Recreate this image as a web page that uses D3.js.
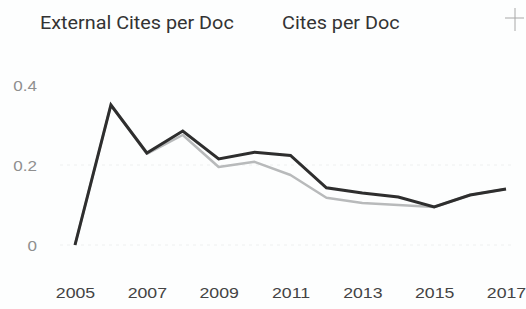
<!DOCTYPE html>
<html>
<head>
<meta charset="utf-8">
<script src="https://cdn.jsdelivr.net/npm/d3@7"></script>
<style>
  body { margin: 0; background: #fdfefe; }
  svg { display: block; font-family: Roboto, sans-serif; }
</style>
</head>
<body>
<div id="chart"></div>
<script>
// Chart data
const years = [2005, 2006, 2007, 2008, 2009, 2010, 2011, 2012, 2013, 2014, 2015, 2016, 2017];
const citesPerDoc = [0, 0.35, 0.23, 0.285, 0.215, 0.232, 0.224, 0.143, 0.13, 0.12, 0.095, 0.125, 0.14];
const externalCitesPerDoc = [0, 0.35, 0.228, 0.275, 0.195, 0.208, 0.175, 0.118, 0.105, 0.1, 0.095, 0.125, 0.14];
const yTicks = [0, 0.2, 0.4];
const xTicks = [2005, 2007, 2009, 2011, 2013, 2015, 2017];
const legendLabels = ["External Cites per Doc", "Cites per Doc"];

document.addEventListener('DOMContentLoaded', function(){

	const w = 526;
	const h = 309;

	const svg = d3.select("#chart")
				  .append("svg")
				  .attr("width", w)
				  .attr("height", h);

	//Scales
	const xScale = d3.scaleLinear()
					 .domain([2005, 2017])
					 .range([75, 506]);

	const yScale = d3.scaleLinear()
					 .domain([0, 0.4])
					 .range([245, 85]);

	//Faint grid
	svg.append("g")
	   .selectAll("line")
	   .data([0, 0.2])
	   .enter()
	   .append("line")
	   .attr("x1", 60)
	   .attr("x2", 515)
	   .attr("y1", (d) => yScale(d))
	   .attr("y2", (d) => yScale(d))
	   .attr("stroke", "#eef0f0")
	   .attr("stroke-dasharray", "3,4");

	//Y axis
	const y_axis = d3.axisLeft(yScale)
					 .tickValues(yTicks)
					 .tickFormat(d3.format("~g"))
					 .tickSize(0)
					 .tickPadding(0);

	const gy = svg.append("g")
				  .attr("transform", "translate(37,1)")
				  .call(y_axis);
	gy.select(".domain").remove();
	gy.selectAll("text")
	  .attr("fill", "#8f8f8f")
	  .attr("transform", "scale(1.22,1)")
	  .style("font-size", "14px");

	//X axis
	const x_axis = d3.axisBottom(xScale)
					 .tickValues(xTicks)
					 .tickFormat(d3.format("d"))
					 .tickSize(0)
					 .tickPadding(0);

	const gx = svg.append("g")
				  .attr("transform", "translate(0,287)")
				  .call(x_axis);
	gx.select(".domain").remove();
	gx.selectAll("text")
	  .attr("fill", "#444")
	  .attr("transform", "scale(1.18,1)")
	  .style("font-size", "15px");

	//Lines
	const line = d3.line()
				   .x((d, i) => xScale(years[i]))
				   .y((d) => yScale(d));

	svg.append("path")
	   .datum(externalCitesPerDoc)
	   .attr("d", line)
	   .attr("fill", "none")
	   .attr("stroke", "#b8babb")
	   .attr("stroke-width", 2.5)
	   .attr("stroke-linejoin", "round");

	svg.append("path")
	   .datum(citesPerDoc)
	   .attr("d", line)
	   .attr("fill", "none")
	   .attr("stroke", "#2e2e2e")
	   .attr("stroke-width", 3)
	   .attr("stroke-linejoin", "miter");

	//Legend
	svg.selectAll(".legend")
	   .data(legendLabels)
	   .enter()
	   .append("text")
	   .attr("class", "legend")
	   .attr("transform", (d, i) => "translate(" + [40, 282][i] + ",29) scale(1.1,1)")
	   .attr("fill", "#333")
	   .style("font-size", "18px")
	   .text((d) => d);

	//Crosshair icon
	const cross = svg.append("g").attr("stroke", "#a8a8a8").attr("stroke-width", 1);
	cross.append("line").attr("x1", 505).attr("x2", 524).attr("y1", 18).attr("y2", 18);
	cross.append("line").attr("x1", 515).attr("x2", 515).attr("y1", 8).attr("y2", 31);

});
</script>
</body>
</html>
